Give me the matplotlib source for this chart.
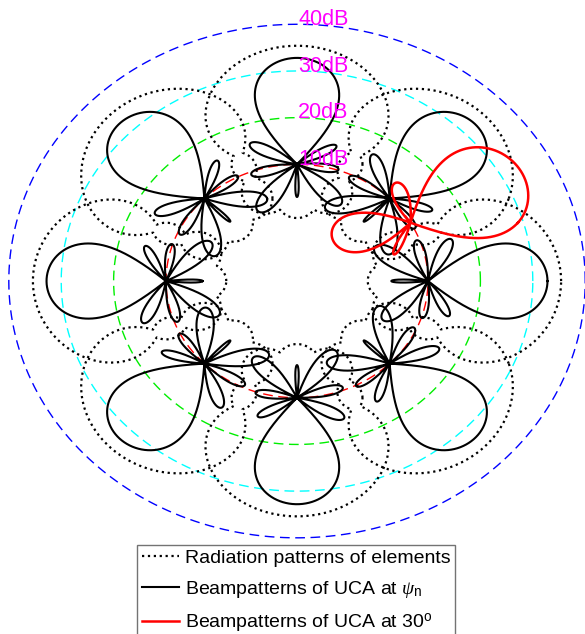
import numpy as np
import matplotlib
matplotlib.use("Agg")
import matplotlib.pyplot as plt

plt.rcParams["font.family"] = ["Liberation Sans", "DejaVu Sans"]
plt.rcParams["mathtext.fontset"] = "custom"
plt.rcParams["mathtext.it"] = "Liberation Serif:italic"
plt.rcParams["mathtext.rm"] = "Liberation Sans"

# dB rings and their colours
ring_db = [10, 20, 30, 40]
ring_colors = ["#ff0000", "#00ee00", "#00ffff", "#0000ff"]
ring_labels = ["10dB", "20dB", "30dB", "40dB"]
DB_OFFSET = 15  # radius in plot units = dB + offset

# element directions of the UCA (deg) - elements sit on the 10 dB ring
element_angles = [0, 45, 90, 135, 180, 225, 270, 315]
red_angle = 30

# lobes: (angle rel. to outward dir, length in dB, half width in deg)
elem_lobe_dir = [0, 90, -90, 135, -135, 180]
elem_lobe_len = [25.4, 12.5, 12.5, 13.0, 13.0, 11.5]
elem_lobe_hw = [95, 50, 50, 55, 55, 55]

beam_lobe_dir = [0, 64, 104, 144, 180, -136, -98, -62]
beam_lobe_len = [22.8, 10.0, 9.0, 12.5, 7.0, 12.0, 8.0, 8.5]
beam_lobe_hw = [43, 19, 19, 21, 9, 21, 19, 17]

red_lobe_dir = [-4, 162, 78, -145]
red_lobe_len = [23.8, 15.3, 9.0, 7.5]
red_lobe_hw = [50, 38, 28, 14]


def pattern(theta, outward, dirs, lens, hws):
    r = np.zeros_like(theta)
    for d, L, hw in zip(dirs, lens, hws):
        delta = np.angle(np.exp(1j * (theta - np.deg2rad(outward + d))))
        c = np.cos(np.pi / 2 * delta / np.deg2rad(hw))
        c = np.where(np.abs(delta) < np.deg2rad(hw), c, 1e-9)
        lobe = L + 20 * np.log10(np.maximum(c, 1e-9))
        r = np.maximum(r, lobe)
    return r


def draw_pattern(ax, center_deg, dirs, lens, hws, **kw):
    theta = np.linspace(0, 2 * np.pi, 4000)
    r = pattern(theta, center_deg, dirs, lens, hws)
    cx = (10 + DB_OFFSET) * np.cos(np.deg2rad(center_deg))
    cy = (10 + DB_OFFSET) * np.sin(np.deg2rad(center_deg))
    return ax.plot(cx + r * np.cos(theta), cy + r * np.sin(theta), **kw)


fig = plt.figure(figsize=(5.85, 6.34), dpi=100)
ax = fig.add_axes([0, 0, 1, 1])
ax.set_xlim(-56.68, 54.96)
ax.set_ylim(-75.6, 60.2)
ax.axis("off")

t = np.linspace(0, 2 * np.pi, 720)
for db, col in zip(ring_db, ring_colors):
    R = db + DB_OFFSET
    ax.plot(R * np.cos(t), R * np.sin(t), color=col, lw=1.0, dashes=(7, 4))

for ang in element_angles:
    h1, = draw_pattern(ax, ang, elem_lobe_dir, elem_lobe_len, elem_lobe_hw,
                       color="black", lw=1.6, linestyle=":")
for ang in element_angles:
    h2, = draw_pattern(ax, ang, beam_lobe_dir, beam_lobe_len, beam_lobe_hw,
                       color="black", lw=1.5)
h3, = draw_pattern(ax, red_angle, red_lobe_dir, red_lobe_len, red_lobe_hw,
                   color="red", lw=1.8)

for db, lab in zip(ring_db, ring_labels):
    ax.text(0.2, db + DB_OFFSET + 1, lab, color="#ff00ff", fontsize=15.5,
            ha="left", va="center")

leg = fig.legend([h1, h2, h3],
                 ["Radiation patterns of elements",
                  r"Beampatterns of UCA at $\mathit{\psi}_{\rm n}$",
                  r"Beampatterns of UCA at 30$^{\rm o}$"],
                 loc="upper left", bbox_to_anchor=(0.234, 0.141),
                 fontsize=14, handlelength=1.9, handletextpad=0.3,
                 borderpad=0.25, labelspacing=0.6, fancybox=False,
                 framealpha=1, edgecolor="0.45", borderaxespad=0)
leg.get_frame().set_linewidth(1.0)

fig.savefig("out.png", dpi=100)
